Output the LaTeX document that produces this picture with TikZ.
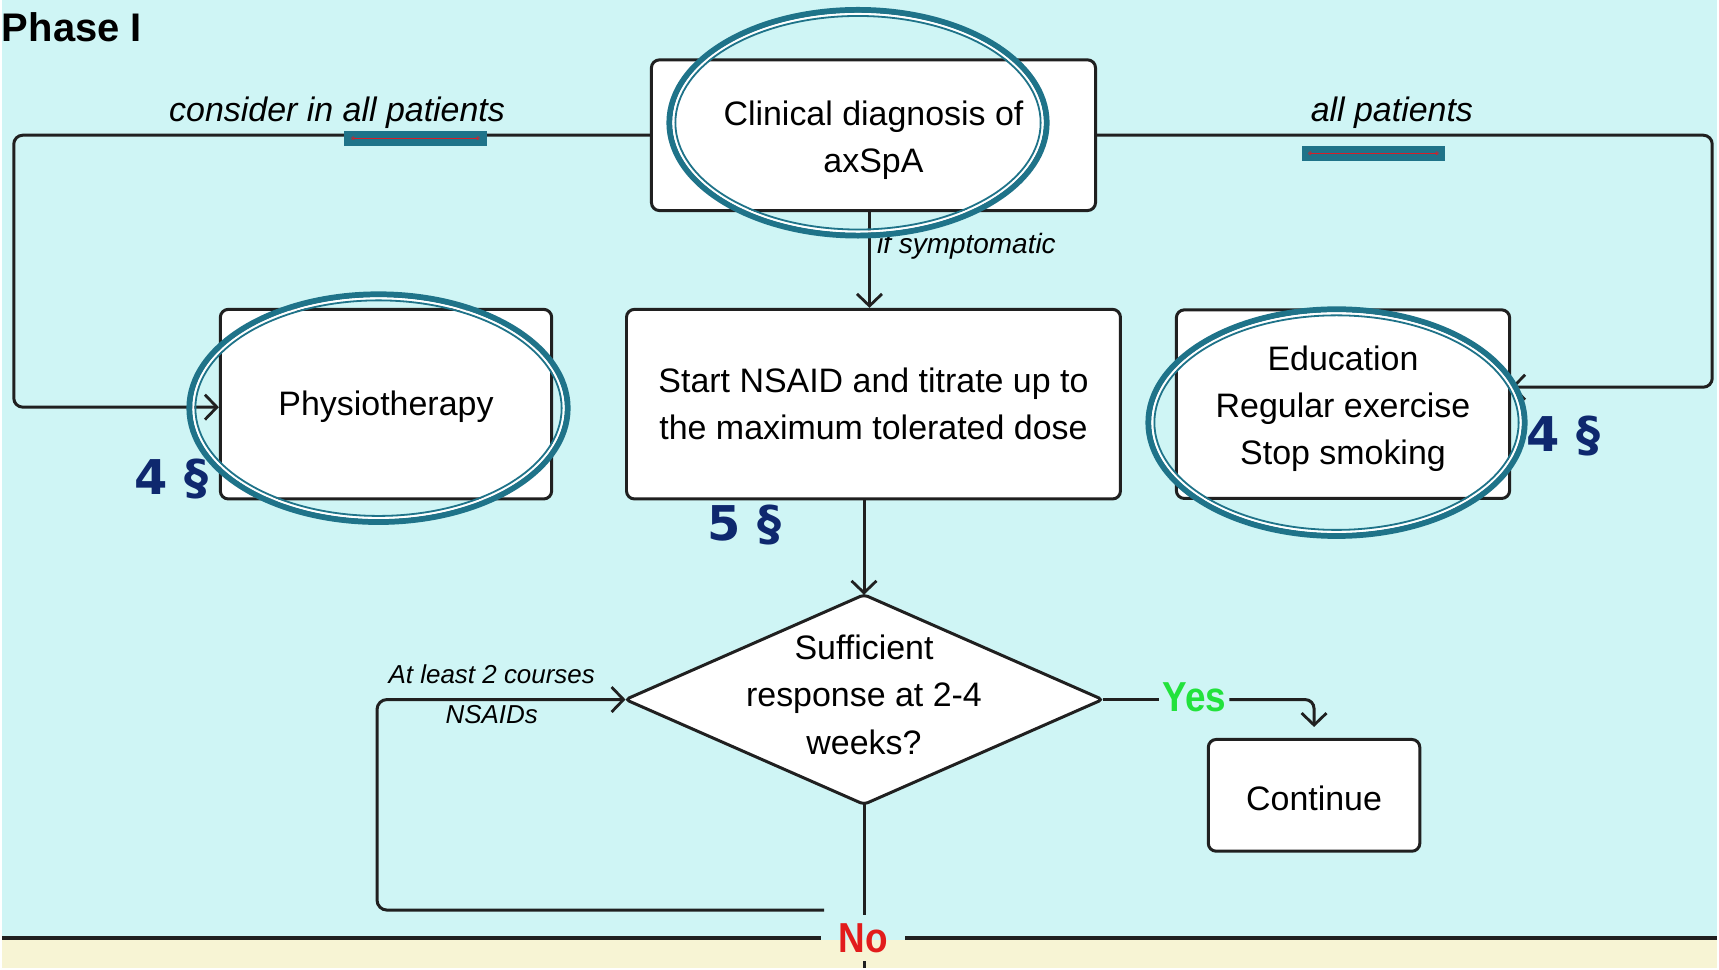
\documentclass[tikz,border=0pt]{standalone}
\usepackage{fontspec}
\setmainfont{Liberation Sans}
\newfontfamily\condfont[FakeStretch=0.88]{Liberation Sans}
\newfontfamily\markfont{DejaVu Sans}
\usetikzlibrary{shapes.geometric,arrows.meta}

\definecolor{bgcyan}{RGB}{207,245,245}
\definecolor{bandyellow}{RGB}{247,244,212}
\definecolor{ringteal}{RGB}{31,115,137}
\definecolor{refnavy}{RGB}{14,40,110}
\definecolor{yesgreen}{RGB}{34,226,60}
\definecolor{nored}{RGB}{226,28,28}
\definecolor{boxline}{RGB}{32,32,32}
\definecolor{markred}{RGB}{214,30,40}

\tikzset{
  pics/markring/.style n args={2}{code={
    \draw[ringteal, line width=6pt] (0,0) ellipse [x radius=#1pt-3pt, y radius=#2pt-3pt];
    \draw[white, line width=2pt] (0,0) ellipse [x radius=#1pt-7pt, y radius=#2pt-7pt];
    \draw[ringteal, line width=1.8pt] (0,0) ellipse [x radius=#1pt-9pt, y radius=#2pt-9pt];
  }}
}

\begin{document}
\begin{tikzpicture}[x=1pt, y=-1pt,
  box/.style={draw=boxline, line width=3pt, fill=white, rounded corners=8pt, inner sep=0pt},
  boxtext/.style={align=center, inner sep=0pt, font=\fontsize{34}{47.5}\selectfont},
  flow/.style={draw=boxline, line width=3pt},
  arr/.style={flow, -{Straight Barb[length=12pt, width=25pt, line width=2.8pt]}},
  lbl/.style={inner sep=0pt, font=\itshape\fontsize{34}{40}\selectfont},
  smalllbl/.style={inner sep=0pt, font=\itshape\fontsize{26}{30}\selectfont},
  ref/.style={inner sep=0pt, anchor=base west, text=refnavy, font=\markfont\fontsize{48}{48}\bfseries},
  answer/.style={inner sep=0pt, font=\condfont\fontsize{42}{42}\bfseries}
]
% background and lower band
\fill[bgcyan] (0,0) rectangle (1719,970);
\fill[bandyellow] (0,942) rectangle (1719,970);

% title
\node[anchor=base west, inner sep=0pt, font=\fontsize{40}{40}\bfseries] (title) at (0,42) {Phase I};

% boxes
\node[box, minimum width=445pt, minimum height=151pt] (clin) at (873.5,135.5) {};
\node[boxtext] (clin-t) at (873.5,140.5) {Clinical diagnosis of\\axSpA};
\node[box, minimum width=332pt, minimum height=190pt] (physio) at (385,405) {};
\node[boxtext] (physio-t) at (385,408) {Physiotherapy};
\node[box, minimum width=495pt, minimum height=190pt] (nsaid) at (873.5,405) {};
\node[boxtext] (nsaid-t) at (873.5,405) {Start NSAID and titrate up to\\the maximum tolerated dose};
\node[box, minimum width=334pt, minimum height=189pt] (edu) at (1344,405) {};
\node[boxtext] (edu-t) at (1344,409.5) {Education\\Regular exercise\\Stop smoking};
\node[diamond, draw=boxline, line width=3pt, fill=white, minimum width=478pt, minimum height=210pt,
      inner sep=0pt, outer sep=0pt, rounded corners=4pt] (q) at (864,701) {};
\node[boxtext] (q-t) at (864,696) {Sufficient\\response at 2-4\\weeks?};
\node[box, minimum width=212pt, minimum height=112pt] (cont) at (1315,797) {};
\node[boxtext] (cont-t) at (1315,800) {Continue};

% answers
\node[answer, text=yesgreen, minimum width=70pt] (yes) at (1195,699) {Yes};
\node[answer, text=nored, minimum width=84pt, minimum height=46pt] (no) at (863,940) {No};

% free ends
\coordinate (lx) at (12,300);
\coordinate (rx) at (1714,250);
\coordinate (nostart) at (824,912);
\coordinate (lb) at (376,912);
\coordinate (bandL) at (0,940);
\coordinate (bandR) at (1719,940);
\coordinate (downout) at (864,970);

% connectors
\draw[arr] ([xshift=-4pt]clin.south) -- ([xshift=-4pt]nsaid.north);
\draw[arr] (nsaid.south -| q.north) -- (q.north);
\draw[arr, rounded corners=9pt] (clin.west) -| (lx) |- ([yshift=-3pt]physio.west);
\draw[arr, rounded corners=9pt] (clin.east) -| (rx) |- ([yshift=17pt]edu.east);
\draw[flow] (q.east) -- (q.east -| yes.west);
\draw[arr, rounded corners=9pt, shorten >=11pt] (yes.east |- q.east) -| (cont.north);
\draw[flow] (q.south) -- (q.south |- no.north);
\draw[flow] (q.south |- no.south) -- (downout);
\draw[arr, rounded corners=10pt] (nostart) -- (lb) |- (q.west);
\draw[boxline, line width=3.6pt] (bandL) -- (no.west);
\draw[boxline, line width=3.6pt] (no.east) -- (bandR);

% connector labels
\node[lbl, anchor=base] (consider) at (336,122) {consider in all patients};
\node[lbl, anchor=base] (allp) at (1393,122) {all patients};
\node[lbl, anchor=base west, font=\itshape\fontsize{28}{30}\selectfont] (ifsym) at (877,254) {if symptomatic};
\node[smalllbl, anchor=base] (courses) at (491,685) {At least 2 courses};
\node[smalllbl, anchor=base] (nsaids) at (491,725) {NSAIDs};

% highlight bars under the labels
\fill[ringteal] (343,131) rectangle (486,146);
\draw[markred, line width=1.2pt] (352,138.5) -- (477,138.5);
\draw[markred, line width=0.5pt] (352,138.5) circle (1.6pt) (477,138.5) circle (1.6pt);
\fill[ringteal] (1303,146) rectangle (1446,161);
\draw[markred, line width=1.2pt] (1311,153.5) -- (1438,153.5);
\draw[markred, line width=0.5pt] (1311,153.5) circle (1.6pt) (1438,153.5) circle (1.6pt);

% rings around the key steps
\pic at (858,123) {markring={192}{116}};
\pic at (377.5,409) {markring={192.5}{117}};
\pic at (1337.5,423.5) {markring={191.5}{116.5}};

% paragraph references
\node[ref] (ref1) at (133,496) {4 §};
\node[ref] (ref2) at (707,542) {5 §};
\node[ref] (ref3) at (1528,452) {4 §};
\end{tikzpicture}
\end{document}
